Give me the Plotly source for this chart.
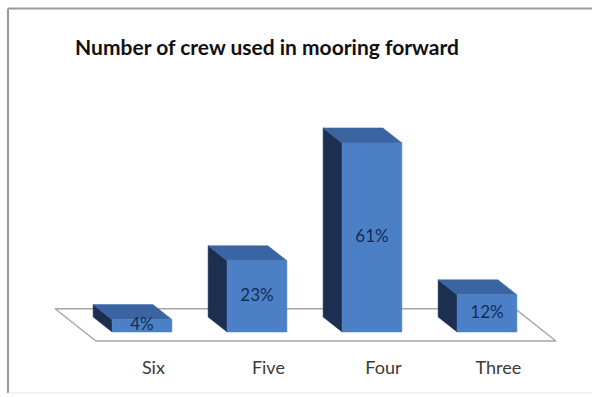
import plotly.graph_objects as go

# Survey result: crew members used for forward mooring
categories = ["Six", "Five", "Four", "Three"]
shares = [4, 23, 61, 12]
share_labels = ["4%", "23%", "61%", "12%"]

TITLE = "Number of crew used in mooring forward"

# --- styling / geometry -------------------------------------------------
W, H = 592, 397
MARGIN_B = 42
FRONT = "#4c80c6"
TOP = "#3b64a2"
SIDE = "#1d2f50"
FLOOR_LINE = "#a6a6a6"
FONT = "Lato"

BAR_W = 0.52          # bar width in category units
DEPTH_X = -0.165      # oblique depth shift (category units)
DEPTH_Y = 4.84        # oblique depth shift (value units)
FLOOR_FRONT = -0.6    # floor depth extent, in bar depths
FLOOR_BACK = 1.55

# axis placement: 115 px per category, 3.1 px per percentage point
PX_X0, PX_PER_CAT = 142, 115
PX_BASE, PX_PER_PCT = 332, 3.1
plot_h = H - MARGIN_B
x_range = [-PX_X0 / PX_PER_CAT, (W - PX_X0) / PX_PER_CAT]
y_top = PX_BASE / PX_PER_PCT
y_range = [y_top - plot_h / PX_PER_PCT, y_top]

n = len(categories)
xs = list(range(n))

fig = go.Figure()


def face(px, py, color):
    """Filled polygon for one face of a 3-D bar."""
    fig.add_trace(go.Scatter(x=px + px[:1], y=py + py[:1], mode="lines",
                             fill="toself", fillcolor=color,
                             line=dict(color=color, width=0.5),
                             hoverinfo="skip", showlegend=False))


# floor parallelogram
fx0, fx1 = -0.5, n - 0.5
fig.add_trace(go.Scatter(
    x=[fx0 + FLOOR_FRONT * DEPTH_X, fx1 + FLOOR_FRONT * DEPTH_X,
       fx1 + FLOOR_BACK * DEPTH_X, fx0 + FLOOR_BACK * DEPTH_X,
       fx0 + FLOOR_FRONT * DEPTH_X],
    y=[FLOOR_FRONT * DEPTH_Y, FLOOR_FRONT * DEPTH_Y,
       FLOOR_BACK * DEPTH_Y, FLOOR_BACK * DEPTH_Y,
       FLOOR_FRONT * DEPTH_Y],
    mode="lines", fill="toself", fillcolor="white",
    line=dict(color=FLOOR_LINE, width=1.5),
    hoverinfo="skip", showlegend=False))

# bars: side, top and front faces
for x, v in zip(xs, shares):
    l, r = x - BAR_W / 2, x + BAR_W / 2
    face([l, l, l + DEPTH_X, l + DEPTH_X], [0, v, v + DEPTH_Y, DEPTH_Y], SIDE)
    face([l, r, r + DEPTH_X, l + DEPTH_X], [v, v, v + DEPTH_Y, v + DEPTH_Y], TOP)
    face([l, r, r, l], [0, 0, v, v], FRONT)

# value labels at the centre of each front face
fig.add_trace(go.Scatter(x=xs, y=[v / 2 for v in shares], mode="text",
                         text=share_labels,
                         textfont=dict(family=FONT, size=17, color="#142a55"),
                         hoverinfo="skip", showlegend=False))

# category labels sit at the front edge of the floor
tick_pos = [x + FLOOR_FRONT * DEPTH_X for x in xs]

fig.update_layout(
    width=W, height=H,
    margin=dict(l=0, r=0, t=0, b=MARGIN_B),
    paper_bgcolor="white", plot_bgcolor="white",
    title=dict(text=f"<b>{TITLE}</b>", xref="container", yref="container",
               x=267 / W, y=1 - 48 / H, xanchor="center", yanchor="middle",
               font=dict(family=FONT, size=21, color="#111111")),
    xaxis=dict(range=x_range, tickvals=tick_pos, ticktext=categories,
               showgrid=False, zeroline=False, showline=False, ticks="",
               tickfont=dict(family=FONT, size=18, color="#3a3a3a")),
    yaxis=dict(range=y_range, visible=False),
)

# chart frame
frame_top = 1 - 8.5 / plot_h
frame_bottom = 1 - 393 / plot_h
frame_left = 8 / W
fig.add_shape(type="line", xref="paper", yref="paper", x0=frame_left, x1=1,
              y0=frame_top, y1=frame_top, line=dict(color="#9a9a9a", width=2))
fig.add_shape(type="line", xref="paper", yref="paper", x0=frame_left, x1=frame_left,
              y0=frame_top, y1=frame_bottom, line=dict(color="#9a9a9a", width=2))
fig.add_shape(type="line", xref="paper", yref="paper", x0=frame_left, x1=1,
              y0=frame_bottom, y1=frame_bottom, line=dict(color="#e6e6e6", width=1))

fig.write_html("out.html")
